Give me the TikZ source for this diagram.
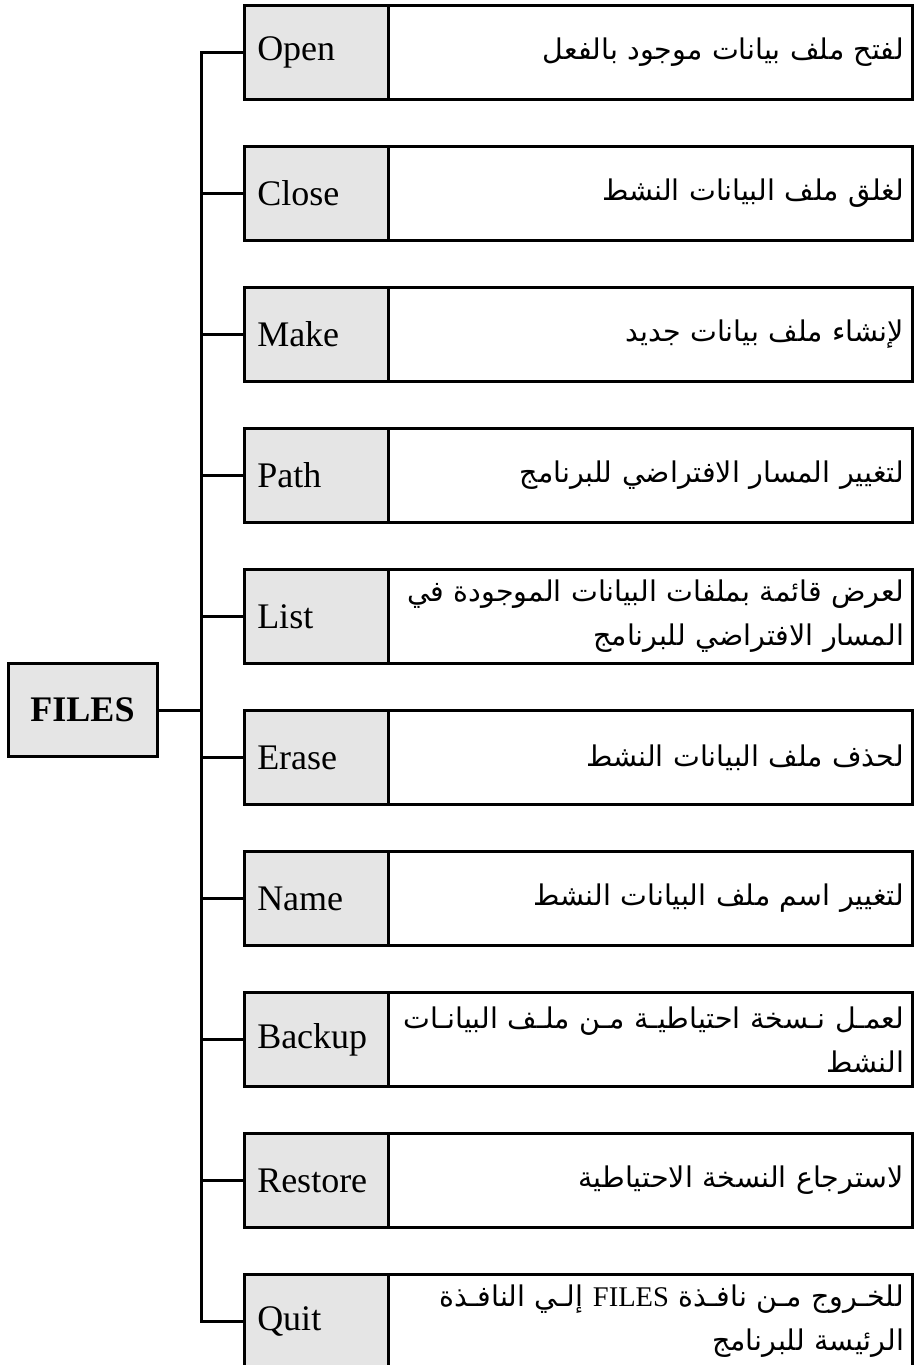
\documentclass[tikz,border=0pt]{standalone}
\usepackage{fontspec}
\setmainfont{Liberation Serif}
\newfontfamily\arabicfont[Script=Arabic]{DejaVu Sans}
\TeXXeTstate=1
\usetikzlibrary{positioning}
\definecolor{cmdgray}{gray}{0.9}

\begin{document}
\begin{tikzpicture}[x=1pt,y=-1pt,
    cmd/.style={draw,line width=3pt,fill=cmdgray,minimum width=143.5pt,minimum height=93.5pt,
      inner sep=0pt,outer sep=0pt,text width=118pt,align=left,font=\fontsize{36}{40}\selectfont},
    desc/.style={draw,line width=3pt,fill=white,minimum width=524pt,minimum height=93.5pt,
      inner sep=0pt,outer sep=0pt,text width=508pt,align=right,font=\arabicfont\fontsize{28.5}{44}\selectfont},
    filesbox/.style={draw,line width=3pt,fill=cmdgray,minimum width=149pt,minimum height=93pt,
      inner sep=0pt,outer sep=0pt,font=\bfseries\fontsize{36}{40}\selectfont},
    conn/.style={line width=3pt,line cap=rect}]
  \useasboundingbox (0,0) rectangle (915,1365);

  \node[cmd] (c-open) at (316.25,52.5) {Open};
  \node[cmd,below=47.5pt of c-open] (c-close) {Close};
  \node[cmd,below=47.5pt of c-close] (c-make) {Make};
  \node[cmd,below=47.5pt of c-make] (c-path) {Path};
  \node[cmd,below=47.5pt of c-path] (c-list) {List};
  \node[cmd,below=47.5pt of c-list] (c-erase) {Erase};
  \node[cmd,below=47.5pt of c-erase] (c-name) {Name};
  \node[cmd,below=47.5pt of c-name] (c-backup) {Backup};
  \node[cmd,below=47.5pt of c-backup] (c-restore) {Restore};
  \node[cmd,below=47.5pt of c-restore] (c-quit) {Quit};

  \node[desc,right=0pt of c-open] (d-open) {\beginR لفتح ملف بيانات موجود بالفعل\endR};
  \node[desc,right=0pt of c-close] (d-close) {\beginR لغلق ملف البيانات النشط\endR};
  \node[desc,right=0pt of c-make] (d-make) {\beginR لإنشاء ملف بيانات جديد\endR};
  \node[desc,right=0pt of c-path] (d-path) {\beginR لتغيير المسار الافتراضي للبرنامج\endR};
  \node[desc,right=0pt of c-list] (d-list) {\beginR لعرض قائمة بملفات البيانات الموجودة في\endR\\
    \beginR المسار الافتراضي للبرنامج\endR};
  \node[desc,right=0pt of c-erase] (d-erase) {\beginR لحذف ملف البيانات النشط\endR};
  \node[desc,right=0pt of c-name] (d-name) {\beginR لتغيير اسم ملف البيانات النشط\endR};
  \node[desc,right=0pt of c-backup] (d-backup) {\mbox{\beginR لعمـل نـسخة احتياطيـة مـن ملـف البيانـات\endR}\\
    \beginR النشط\endR};
  \node[desc,right=0pt of c-restore] (d-restore) {\beginR لاسترجاع النسخة الاحتياطية\endR};
  \node[desc,right=0pt of c-quit] (d-quit) {\beginR للخـروج مـن نافـذة {\normalfont FILES} إلـي النافـذة\endR\\
    \beginR الرئيسة للبرنامج\endR};

  \node[filesbox] (files) at (82.5,710) {FILES};
  \coordinate (trunk) at (201,0);

  \draw[conn] (c-open.west -| trunk) -- (c-quit.west -| trunk);
  \draw[conn] (files.east) -- (files.east -| trunk);
  \draw[conn] (c-open.west) -- (c-open.west -| trunk);
  \draw[conn] (c-close.west) -- (c-close.west -| trunk);
  \draw[conn] (c-make.west) -- (c-make.west -| trunk);
  \draw[conn] (c-path.west) -- (c-path.west -| trunk);
  \draw[conn] (c-list.west) -- (c-list.west -| trunk);
  \draw[conn] (c-erase.west) -- (c-erase.west -| trunk);
  \draw[conn] (c-name.west) -- (c-name.west -| trunk);
  \draw[conn] (c-backup.west) -- (c-backup.west -| trunk);
  \draw[conn] (c-restore.west) -- (c-restore.west -| trunk);
  \draw[conn] (c-quit.west) -- (c-quit.west -| trunk);
\end{tikzpicture}
\end{document}
